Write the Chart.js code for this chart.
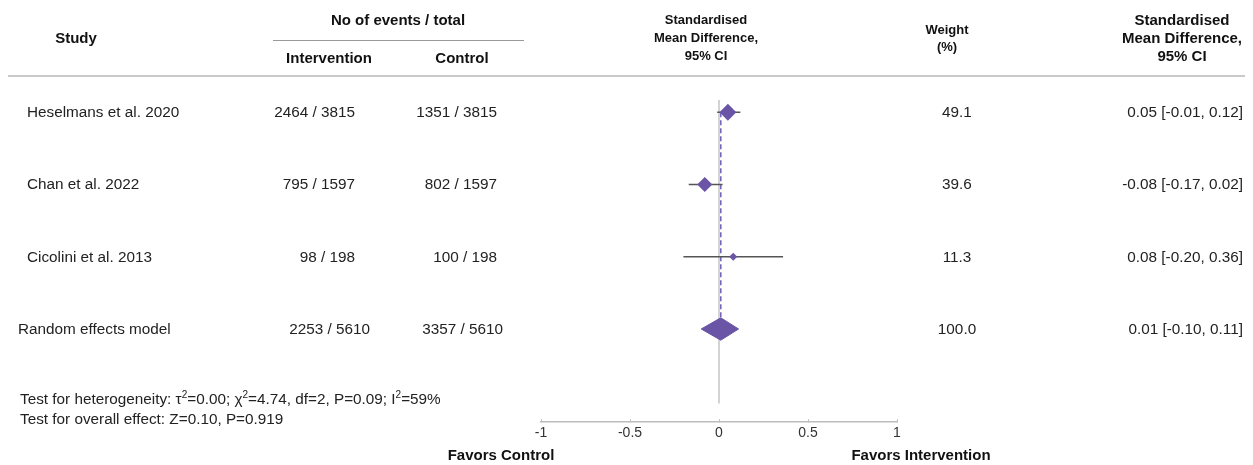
<!DOCTYPE html>
<html>
<head>
<meta charset="utf-8">
<title>Forest plot</title>
<script src="https://cdn.jsdelivr.net/npm/chart.js@4.4.1/dist/chart.umd.min.js"></script>
<style>
  body { margin: 0; background: #fff; font-family: "Liberation Sans", Arial, sans-serif; color: #222; }
  #wrap { position: relative; width: 1253px; height: 465px; overflow: hidden; }
  #wrap canvas { position: absolute; left: 0; top: 0; }
  .t { position: absolute; font-size: 15.3px; line-height: 18px; white-space: nowrap; }
  .b { font-weight: bold; color: #111; font-size: 15px; }
  .s { font-size: 13px; }
  .hl { position: absolute; }
  sup { font-size: 10px; line-height: 0; vertical-align: 6px; }
</style>
</head>
<body>
<div id="wrap">
  <canvas id="forest" width="1253" height="465"></canvas>
</div>
<script>
// studies
const studies = ['Heselmans et al. 2020', 'Chan et al. 2022', 'Cicolini et al. 2013'];
const interventionEvents = ['2464 / 3815', '795 / 1597', '98 / 198'];
const controlEvents = ['1351 / 3815', '802 / 1597', '100 / 198'];
const smd = [0.05, -0.08, 0.08];
const ciLow = [-0.01, -0.17, -0.20];
const ciHigh = [0.12, 0.02, 0.36];
const weights = [49.1, 39.6, 11.3];

// pooled (random effects)
const pooledLabel = 'Random effects model';
const pooledIntervention = '2253 / 5610';
const pooledControl = '3357 / 5610';
const pooledSmd = 0.01;
const pooledLow = -0.10;
const pooledHigh = 0.11;
const pooledWeight = 100.0;

const xTicks = [-1, -0.5, 0, 0.5, 1];

const purple = '#6a54a6';
const FONT = '"Liberation Sans", Arial, sans-serif';
const wrap = document.getElementById('wrap');

function put(html, x, y, align, cls) {
  const d = document.createElement('div');
  d.className = 't' + (cls ? ' ' + cls : '');
  d.innerHTML = html;
  d.style.left = x + 'px';
  d.style.top = y + 'px';
  const tx = align === 'center' ? '-50%' : align === 'right' ? '-100%' : '0';
  d.style.transform = 'translate(' + tx + ', -50%)';
  if (align === 'center') d.style.textAlign = 'center';
  wrap.appendChild(d);
  return d;
}
function hline(x, y, w, h, color) {
  const d = document.createElement('div');
  d.className = 'hl';
  d.style.left = x + 'px'; d.style.top = y + 'px';
  d.style.width = w + 'px'; d.style.height = h + 'px';
  d.style.background = color;
  wrap.appendChild(d);
}

const fmt = v => v.toFixed(2);
const rows = studies.map((s, i) => i + 1);
const pooledRow = studies.length + 1;

// CI whiskers, one small line dataset per study
const ciSets = studies.map((s, i) => ({
  label: s + ' CI',
  data: [{ x: ciLow[i], y: rows[i] }, { x: ciHigh[i], y: rows[i] }],
  showLine: true,
  borderColor: '#555',
  borderWidth: 1.3,
  pointRadius: 0,
  order: 3
}));

const diamondH = 0.155; // half height of pooled diamond, in row units

const chart = new Chart(document.getElementById('forest'), {
  type: 'scatter',
  data: {
    datasets: [
      {
        label: 'no effect',
        data: [{ x: 0, y: 0.83 }, { x: 0, y: 5.03 }],
        showLine: true,
        borderColor: '#c4c4c4',
        borderWidth: 1.5,
        pointRadius: 0,
        order: 6
      },
      {
        label: 'pooled estimate',
        data: [{ x: pooledSmd, y: rows[0] }, { x: pooledSmd, y: pooledRow }],
        showLine: true,
        borderColor: '#7566bd',
        borderDash: [5, 3],
        borderWidth: 1.6,
        pointRadius: 0,
        order: 5
      },
      ...ciSets,
      {
        label: 'SMD',
        data: smd.map((v, i) => ({ x: v, y: rows[i] })),
        pointStyle: 'rectRot',
        pointRadius: weights.map(w => 1.2 * Math.sqrt(w)),
        backgroundColor: purple,
        borderWidth: 0,
        order: 1
      },
      {
        label: 'pooled',
        data: [
          { x: pooledLow, y: pooledRow },
          { x: pooledSmd, y: pooledRow - diamondH },
          { x: pooledHigh, y: pooledRow },
          { x: pooledSmd, y: pooledRow + diamondH },
          { x: pooledLow, y: pooledRow }
        ],
        showLine: true,
        fill: 'shape',
        backgroundColor: purple,
        borderColor: purple,
        borderWidth: 1,
        pointRadius: 0,
        order: 1
      }
    ]
  },
  options: {
    responsive: false,
    animation: false,
    layout: { padding: { left: 541, right: 356, top: 40, bottom: 17 } },
    plugins: { legend: { display: false }, tooltip: { enabled: false } },
    scales: {
      x: {
        type: 'linear',
        min: -1,
        max: 1,
        afterBuildTicks: s => { s.ticks = xTicks.map(v => ({ value: v })); },
        ticks: {
          color: '#333',
          font: { size: 14, family: FONT },
          padding: 6,
          callback: v => String(v)
        },
        grid: { drawOnChartArea: false, drawTicks: true, tickLength: -3, color: '#bdbdbd' },
        border: { color: '#bdbdbd', width: 1.5 }
      },
      y: { type: 'linear', reverse: true, min: 0, max: 5.29, display: false }
    }
  }
});

// header
put('Study', 76, 38, 'center', 'b');
put('No of events / total', 398, 20, 'center', 'b');
hline(273, 40, 251, 1, '#9a9a9a');
put('Intervention', 329, 58, 'center', 'b');
put('Control', 462, 58, 'center', 'b');
put('Standardised<br>Mean Difference,<br>95% CI', 706, 38, 'center', 'b s');
put('Weight<br>(%)', 947, 38, 'center', 'b s').style.lineHeight = '17px';
put('Standardised<br>Mean Difference,<br>95% CI', 1182, 38, 'center', 'b');
hline(8, 75, 1237, 2, '#c8cac8');

// table rows, placed on the chart's own y scale
const yS = chart.scales.y;
studies.forEach((s, i) => {
  const y = yS.getPixelForValue(rows[i]);
  put(s, 27, y, 'left');
  put(interventionEvents[i], 355, y, 'right');
  put(controlEvents[i], 497, y, 'right');
  put(weights[i].toFixed(1), 957, y, 'center');
  put(fmt(smd[i]) + ' [' + fmt(ciLow[i]) + ', ' + fmt(ciHigh[i]) + ']', 1243, y, 'right');
});
const yp = yS.getPixelForValue(pooledRow);
put(pooledLabel, 18, yp, 'left');
put(pooledIntervention, 370, yp, 'right');
put(pooledControl, 503, yp, 'right');
put(pooledWeight.toFixed(1), 957, yp, 'center');
put(fmt(pooledSmd) + ' [' + fmt(pooledLow) + ', ' + fmt(pooledHigh) + ']', 1243, yp, 'right');

// footer
put('Test for heterogeneity: &tau;<sup>2</sup>=0.00; &chi;<sup>2</sup>=4.74, df=2, P=0.09; I<sup>2</sup>=59%', 20, 399, 'left');
put('Test for overall effect: Z=0.10, P=0.919', 20, 419, 'left');
put('Favors Control', 501, 455, 'center', 'b');
put('Favors Intervention', 921, 455, 'center', 'b');
</script>
</body>
</html>
